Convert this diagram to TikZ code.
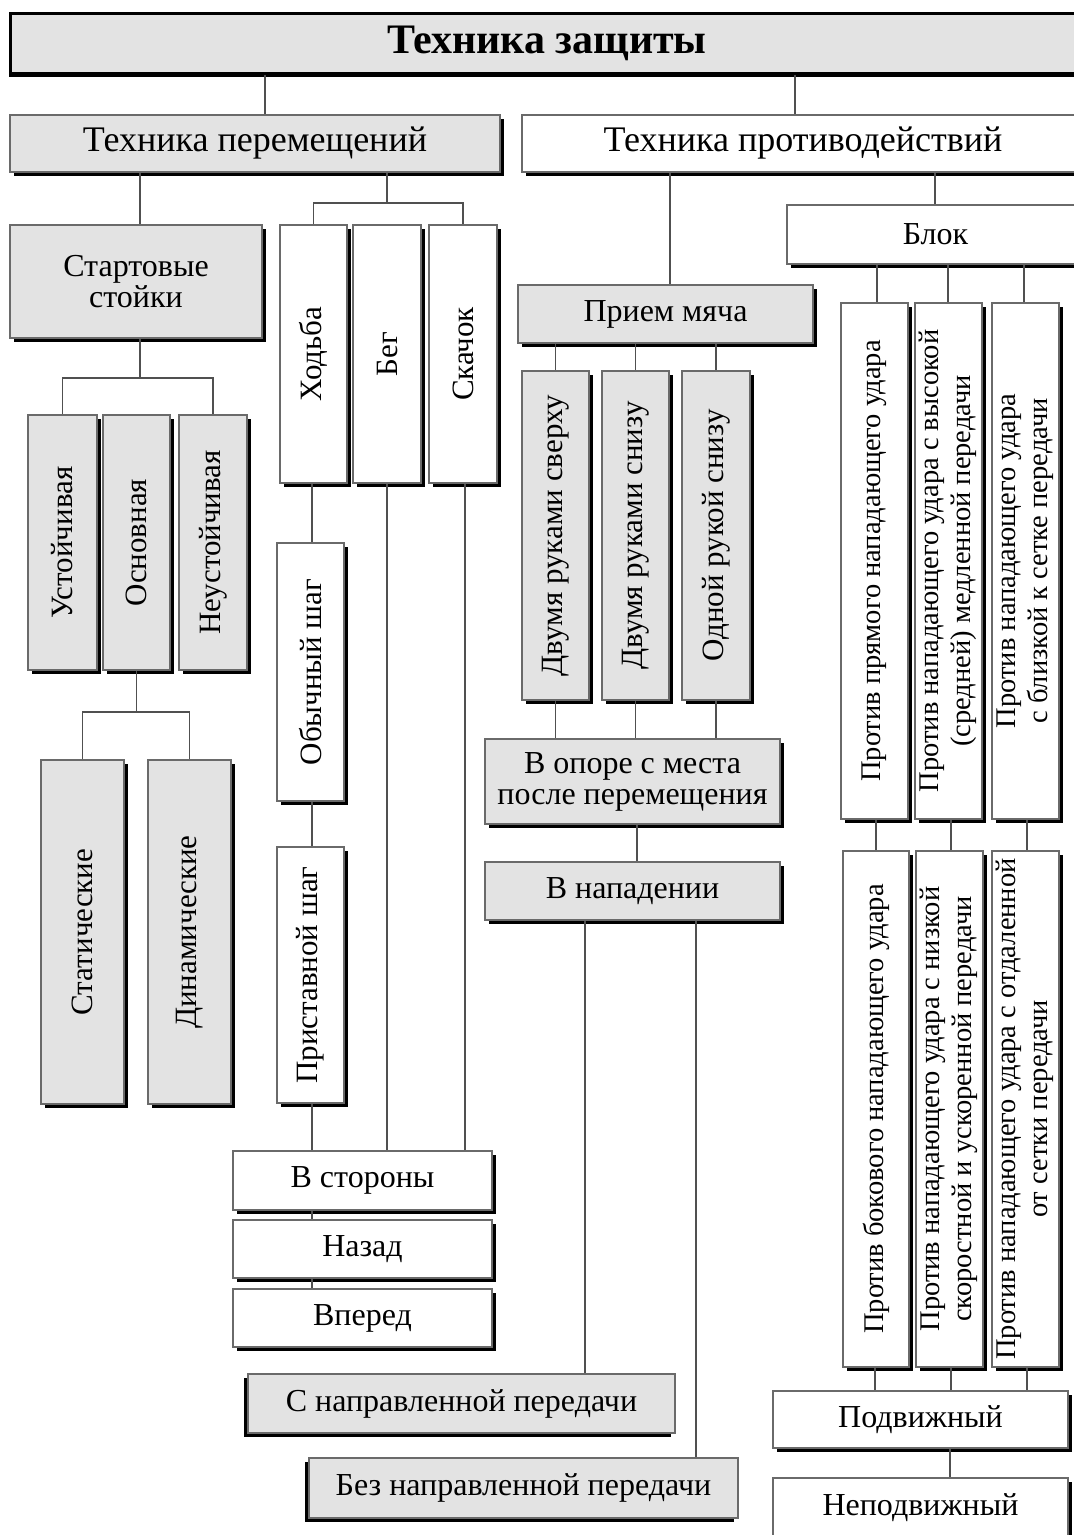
\documentclass[tikz,border=0pt]{standalone}
\usepackage{graphicx}
\usepackage{fontspec}
\setmainfont{Liberation Serif}
\usetikzlibrary{shadows}
\definecolor{boxgray}{HTML}{E3E3E3}
\definecolor{edgegray}{HTML}{6A6A6A}
\definecolor{linegray}{HTML}{505050}
\newcommand\bxx[7]{\node[#2, minimum width={#5-#3}, minimum height={#6-#4}] (#1) at ({(#3+#5)/2},{(#4+#6)/2}) {#7};}
\newcommand\vt[1]{\rotatebox{90}{#1}}
\newcommand\vtt[2]{\rotatebox{90}{\begin{tabular}{@{}c@{}}#1\\#2\end{tabular}}}
\tikzset{
  box/.style={draw=edgegray, line width=1.5pt, inner sep=0pt, align=center, text=black,
    font=\fontsize{32}{32}\selectfont},
  shad/.style={drop shadow={shadow xshift=4pt, shadow yshift=-4pt, fill=black, opacity=1}},
  shadl/.style={drop shadow={shadow xshift=-4pt, shadow yshift=-4pt, fill=black, opacity=1}},
  gbox/.style={box, shad, fill=boxgray},
  wbox/.style={box, shad, fill=white},
  gboxl/.style={box, shadl, fill=boxgray},
  headfont/.style={font=\fontsize{36}{36}\selectfont},
  vfont/.style={font=\fontsize{31}{31}\selectfont},
  pfont/.style={font=\fontsize{28.5}{32}\selectfont},
  conn/.style={draw=linegray, line width=1.5pt},
}
\begin{document}
\begin{tikzpicture}[x=1pt,y=-1pt]
\useasboundingbox (0,0) rectangle (1074,1535);
\clip (0,0) rectangle (1074,1535);
\fill[white] (0,0) rectangle (1074,1535);

% top level
\bxx{title}{box, fill=boxgray, draw=black, line width=3pt, drop shadow={shadow xshift=-1pt, shadow yshift=-4pt, fill=black, opacity=1}, font=\fontsize{42}{42}\selectfont\bfseries}{10}{13}{1084}{73}{Техника защиты}
\bxx{tper}{gbox, headfont}{10}{115}{500}{172}{Техника перемещений}
\bxx{tprot}{wbox, headfont}{522}{115}{1084}{172}{Техника противодействий}

% movement branch
\bxx{start}{gbox}{10}{225}{262}{338}{Стартовые\\[-1pt]стойки}
\bxx{hod}{wbox, vfont}{280}{225}{347}{483}{\vt{Ходьба}}
\bxx{beg}{wbox, vfont}{353}{225}{421}{483}{\vt{Бег}}
\bxx{skach}{wbox, vfont}{429}{225}{497}{483}{\vt{Скачок}}
\bxx{ust}{gbox, vfont}{28}{415}{97}{670}{\vt{Устойчивая}}
\bxx{osn}{gbox, vfont}{103}{415}{170}{670}{\vt{Основная}}
\bxx{neust}{gbox, vfont}{179}{415}{247}{670}{\vt{Неустойчивая}}
\bxx{stat}{gbox, vfont}{41}{760}{124}{1104}{\vt{Статические}}
\bxx{din}{gbox, vfont}{148}{760}{231}{1104}{\vt{Динамические}}
\bxx{obych}{wbox, vfont}{277}{543}{344}{801}{\vt{Обычный шаг}}
\bxx{prist}{wbox, vfont}{277}{847}{344}{1103}{\vt{Приставной шаг}}
\bxx{vstor}{wbox}{233}{1151}{492}{1210}{В стороны}
\bxx{nazad}{wbox}{233}{1220}{492}{1278}{Назад}
\bxx{vpered}{wbox}{233}{1289}{492}{1347}{Вперед}

% counteraction branch
\bxx{priem}{gbox}{518}{285}{813}{343}{Прием мяча}
\bxx{dvs}{gbox, vfont}{522}{371}{589}{700}{\vt{Двумя руками сверху}}
\bxx{dvn}{gbox, vfont}{602}{371}{669}{700}{\vt{Двумя руками снизу}}
\bxx{odn}{gbox, vfont}{682}{371}{750}{700}{\vt{Одной рукой снизу}}
\bxx{opora}{gbox}{485}{739}{780}{824}{В опоре с места\\[-1pt]после перемещения}
\bxx{napad}{gbox}{485}{862}{780}{920}{В нападении}
\bxx{snapr}{gboxl}{248}{1374}{675}{1433}{С направленной передачи}
\bxx{beznapr}{gboxl}{309}{1458}{738}{1518}{Без направленной передачи}

\bxx{blok}{wbox}{787}{205}{1084}{264}{Блок}
\bxx{p1}{wbox, pfont}{841}{303}{908}{819}{\vt{Против прямого нападающего удара}}
\bxx{p2}{wbox, pfont}{915}{303}{982}{819}{\vtt{Против нападающего удара с высокой}{(средней) медленной передачи}}
\bxx{p3}{wbox, pfont}{992}{303}{1059}{819}{\vtt{Против нападающего удара}{с близкой к сетке передачи}}
\bxx{q1}{wbox, pfont}{843}{851}{909}{1367}{\vt{Против бокового нападающего удара}}
\bxx{q2}{wbox, pfont}{916}{851}{983}{1367}{\vtt{Против нападающего удара с низкой}{скоростной и ускоренной передачи}}
\bxx{q3}{wbox, pfont}{992}{851}{1059}{1367}{\vtt{Против нападающего удара с отдаленной}{от сетки передачи}}
\bxx{podv}{wbox}{773}{1391}{1068}{1448}{Подвижный}
\bxx{nepodv}{wbox}{773}{1478}{1068}{1537}{Неподвижный}

% connectors
\draw[conn] (title.south -| 265,0) -- (tper.north -| 265,0);
\draw[conn] (title.south -| 795,0) -- (tprot.north -| 795,0);
\draw[conn] (tper.south -| 140,0) -- (start.north -| 140,0);
\draw[conn] (tper.south -| beg.north) -- (beg.north |- 0,203);
\draw[conn] (hod.north) -- (hod.north |- 0,203) -| (skach.north);
\draw[conn] (start.south -| 140,0) -- (140,378);
\draw[conn] (ust.north) -- (ust.north |- 0,378) -| (neust.north);
\draw[conn] (osn.south) -- (osn.south |- 0,712);
\draw[conn] (stat.north) -- (stat.north |- 0,712) -| (din.north);
\draw[conn] (hod.south -| 312,0) -- (obych.north -| 312,0);
\draw[conn] (obych.south -| 312,0) -- (prist.north -| 312,0);
\draw[conn] (prist.south -| 312,0) -- (vstor.north -| 312,0);
\draw[conn] (beg.south) -- (vstor.north -| beg.south);
\draw[conn] (skach.south -| 465,0) -- (vstor.north -| 465,0);
\draw[conn] (vstor.south -| 312,0) -- (nazad.north -| 312,0);
\draw[conn] (nazad.south -| 312,0) -- (vpered.north -| 312,0);

\draw[conn] (tprot.south -| 670,0) -- (priem.north -| 670,0);
\draw[conn] (tprot.south -| 935,0) -- (blok.north -| 935,0);
\foreach \n in {dvs,dvn,odn}{
  \draw[conn] (priem.south -| \n.north) -- (\n.north);
  \draw[conn] (\n.south) -- (opora.north -| \n.south);
}
\draw[conn] (opora.south -| 637,0) -- (napad.north -| 637,0);
\draw[conn] (napad.south -| 585,0) -- (snapr.north -| 585,0);
\draw[conn] (napad.south -| 696,0) -- (beznapr.north -| 696,0);

\draw[conn] (blok.south -| 877,0) -- (p1.north -| 877,0);
\draw[conn] (blok.south -| 948,0) -- (p2.north -| 948,0);
\draw[conn] (blok.south -| 1024,0) -- (p3.north -| 1024,0);
\draw[conn] (p1.south -| 876,0) -- (q1.north -| 876,0);
\draw[conn] (p2.south -| 951,0) -- (q2.north -| 951,0);
\draw[conn] (p3.south -| 1027,0) -- (q3.north -| 1027,0);
\draw[conn] (q1.south -| 875,0) -- (podv.north -| 875,0);
\draw[conn] (q2.south -| 951,0) -- (podv.north -| 951,0);
\draw[conn] (q3.south -| 1027,0) -- (podv.north -| 1027,0);
\draw[conn] (podv.south -| 950,0) -- (nepodv.north -| 950,0);
\end{tikzpicture}
\end{document}
